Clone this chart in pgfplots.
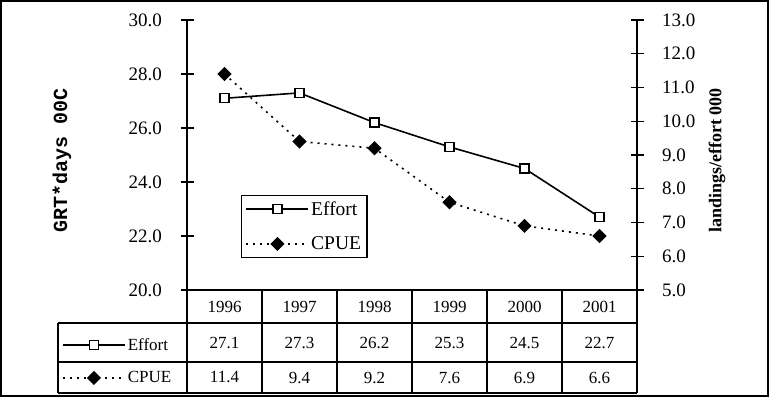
\documentclass[border=0pt]{standalone}
\usepackage{pgfplots}
\pgfplotsset{compat=1.18}
\usepackage{fontspec}
\setmainfont{Liberation Serif}
\setmonofont{Liberation Mono}
\begin{document}
\begin{tikzpicture}[x=1bp,y=1bp]
\pgfplotsset{
  effortstyle/.style={black, line width=1.6bp, mark=square*, mark options={fill=white, solid, line width=1.3bp}, mark size=4.5bp},
  cpuestyle/.style={black, line width=1.6bp, dash pattern=on 2bp off 5bp, mark=square*, mark options={solid, fill=black, rotate=45}, mark size=4.2bp},
  legimg/.style={legend image code/.code={\draw[mark repeat=2,mark phase=2,##1] plot coordinates {(0bp,0bp) (31bp,0bp) (62bp,0bp)};}},
  myaxis/.style={at={(187bp,107bp)}, anchor=south west, scale only axis, width=450bp, height=270bp,
    xmin=-0.5, xmax=5.5, xtick=\empty, clip=false, tick align=center, major tick length=13bp,
    tick style={black, line width=1.2bp}, axis line style={line width=1.5bp},
    /pgf/number format/assume math mode=true,
    /pgf/number format/fixed, /pgf/number format/fixed zerofill, /pgf/number format/precision=1},
}
% left axis: Effort
\begin{axis}[myaxis, ymin=20, ymax=30, ytick={20,22,24,26,28,30},
  axis y line*=left, axis x line*=bottom,
  yticklabel style={font=\fontsize{19bp}{22bp}\selectfont, anchor=east, xshift=-15bp},
  every axis y label/.style={at={(axis description cs:-0.278,0.48)}, rotate=90, anchor=center, font=\ttfamily\bfseries\fontsize{20bp}{22bp}\selectfont},
  ylabel={GRT*days 00C}]
\addplot[effortstyle] coordinates {(0,27.1) (1,27.3) (2,26.2) (3,25.3) (4,24.5) (5,22.7)};
\end{axis}
% right axis: CPUE
\begin{axis}[myaxis, ymin=5, ymax=13, ytick={5,6,...,13},
  axis y line*=right, axis x line=none,
  yticklabel style={font=\fontsize{19bp}{22bp}\selectfont, anchor=west, xshift=15bp},
  every axis y label/.style={at={(axis description cs:1.178,0.48)}, rotate=90, anchor=center, font=\bfseries\fontsize{18bp}{20bp}\selectfont},
  ylabel={landings/effort 000},
  legimg,
  legend style={at={(0.12,0.352)}, anchor=north west, draw=black, line width=1.2bp, fill=white,
    font=\fontsize{19.5bp}{22bp}\selectfont, row sep=16bp, inner sep=4bp, cells={anchor=west}}]
\addlegendimage{effortstyle}
\addlegendentry{Effort}
\addplot[cpuestyle] coordinates {(0,11.4) (1,9.4) (2,9.2) (3,7.6) (4,6.9) (5,6.6)};
\addlegendentry{CPUE}
\end{axis}
% hidden axis carrying the keys of the data table
\begin{axis}[myaxis, ymin=0, ymax=1, hide axis, legimg,
  legend style={at={(-0.2778,-0.17)}, anchor=north west, draw=none, fill=none,
    font=\fontsize{17bp}{20bp}\selectfont, row sep=16bp, inner sep=0bp, cells={anchor=west}}]
\addlegendimage{effortstyle}
\addlegendentry{Effort}
\addlegendimage{cpuestyle}
\addlegendentry{CPUE}
\end{axis}
% data table grid
\begin{scope}[line width=1.5bp, black]
\draw (58,74) -- (637,74);
\draw (58,35) -- (637,35);
\draw (58,4) -- (637,4);
\draw (58,4) -- (58,74);
\foreach \x in {187,262,337,412,487,562,637} {\draw (\x,4) -- (\x,107);}
\end{scope}
\begin{scope}[font=\fontsize{17bp}{20bp}\selectfont]
\foreach \x/\t in {224.5/1996,299.5/1997,374.5/1998,449.5/1999,524.5/2000,599.5/2001} {\node at (\x,90.5) {\t};}
\foreach \x/\t in {224.5/27.1,299.5/27.3,374.5/26.2,449.5/25.3,524.5/24.5,599.5/22.7} {\node at (\x,54.5) {\t};}
\foreach \x/\t in {224.5/11.4,299.5/9.4,374.5/9.2,449.5/7.6,524.5/6.9,599.5/6.6} {\node at (\x,19.5) {\t};}
\end{scope}
\draw[line width=1.5bp] (1,1) rectangle (768,396);
\pgfresetboundingbox
\path[use as bounding box] (0,0) rectangle (769,397);
\end{tikzpicture}
\end{document}
